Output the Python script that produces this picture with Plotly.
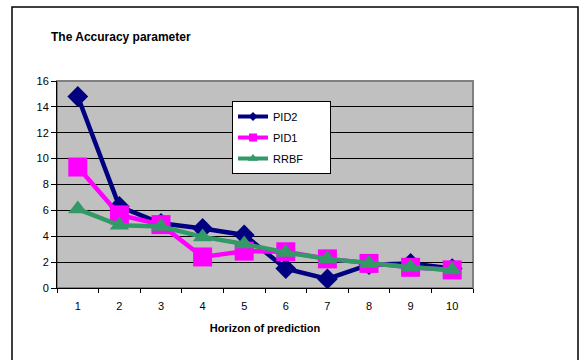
import plotly.graph_objects as go

# Horizon steps and accuracy values per predictor
horizon = [1, 2, 3, 4, 5, 6, 7, 8, 9, 10]
pid2 = [14.8, 6.3, 5.0, 4.6, 4.1, 1.5, 0.7, 1.8, 1.9, 1.5]
pid1 = [9.35, 5.65, 4.9, 2.4, 2.85, 2.8, 2.25, 1.9, 1.6, 1.4]
rrbf = [6.1, 4.85, 4.75, 3.95, 3.4, 2.75, 2.25, 1.9, 1.6, 1.4]
y_ticks = [0, 2, 4, 6, 8, 10, 12, 14, 16]

W, H = 582, 360
L, R, T, B = 57, 473, 81, 288  # plot area in pixels
FONT = "Liberation Sans, Arial, sans-serif"
NB = "\u00a0"


def px_x(p):
    return (p - L) / (R - L)


def px_y(p):
    return (B - p) / (B - T)


fig = go.Figure()
series = [
    ("PID2", pid2, "#000080", "diamond", 16, 7),
    ("PID1", pid1, "#FF00FF", "square", 19, 8),
    ("RRBF", rrbf, "#339966", "triangle-up", 17, 9),
]
for name, vals, color, symbol, size, key_size in series:
    # the plotted series
    fig.add_trace(go.Scatter(
        x=horizon, y=vals, name=name, mode="lines+markers",
        line=dict(color=color, width=4.5),
        marker=dict(symbol=symbol, size=size, color=color, line=dict(width=0)),
        legendgroup=name, showlegend=False,
    ))
    # legend key with a smaller marker
    fig.add_trace(go.Scatter(
        x=[None], y=[None], name=name + NB * 7, mode="lines+markers",
        line=dict(color=color, width=4),
        marker=dict(symbol=symbol, size=key_size, color=color, line=dict(width=0)),
        legendgroup=name, showlegend=True,
    ))

fig.update_layout(
    width=W, height=H,
    margin=dict(l=L, r=W - R, t=T, b=H - B),
    paper_bgcolor="white",
    plot_bgcolor="#C0C0C0",
    font=dict(family=FONT, size=11, color="black"),
    title=dict(text="<b>The Accuracy parameter</b>", x=51 / W, xref="container",
               xanchor="left", y=1 - 37 / H, yref="container", yanchor="middle",
               font=dict(family=FONT, size=12, color="black")),
    showlegend=True,
    legend=dict(x=px_x(232), y=px_y(101), xanchor="left", yanchor="top",
                bgcolor="white", bordercolor="black", borderwidth=1,
                font=dict(family=FONT, size=11, color="black"),
                traceorder="grouped", tracegroupgap=2),
    xaxis=dict(range=[0.5, 10.5], tickvals=horizon, ticktext=[str(h) for h in horizon],
               ticks="", showgrid=False, zeroline=False, ticklabelstandoff=8,
               showline=True, linecolor="black", linewidth=1,
               minor=dict(tickvals=[h - 0.5 for h in horizon] + [10.5], ticks="outside",
                          ticklen=4, tickcolor="black", tickwidth=1, showgrid=False),
               title=dict(text="<b>Horizon of prediction</b>", standoff=13,
                          font=dict(family=FONT, size=11, color="black")),
               tickfont=dict(size=11), fixedrange=True),
    yaxis=dict(range=[0, 16], tickvals=y_ticks, ticks="outside", ticklen=5,
               tickcolor="black", showgrid=True, gridcolor="black", gridwidth=1,
               zeroline=False, showline=True, linecolor="black", linewidth=1,
               tickfont=dict(size=11), fixedrange=True),
    shapes=[
        # grey frame around the plotting area
        dict(type="rect", xref="paper", yref="paper", x0=0, x1=1, y0=0, y1=1,
             line=dict(color="#808080", width=2), layer="below"),
        # outer chart border (bottom edge runs off the page)
        dict(type="rect", xref="paper", yref="paper",
             x0=px_x(12), x1=px_x(578), y0=px_y(368), y1=px_y(7),
             line=dict(color="black", width=1.5), layer="below"),
    ],
)

fig.write_html("out.html")
